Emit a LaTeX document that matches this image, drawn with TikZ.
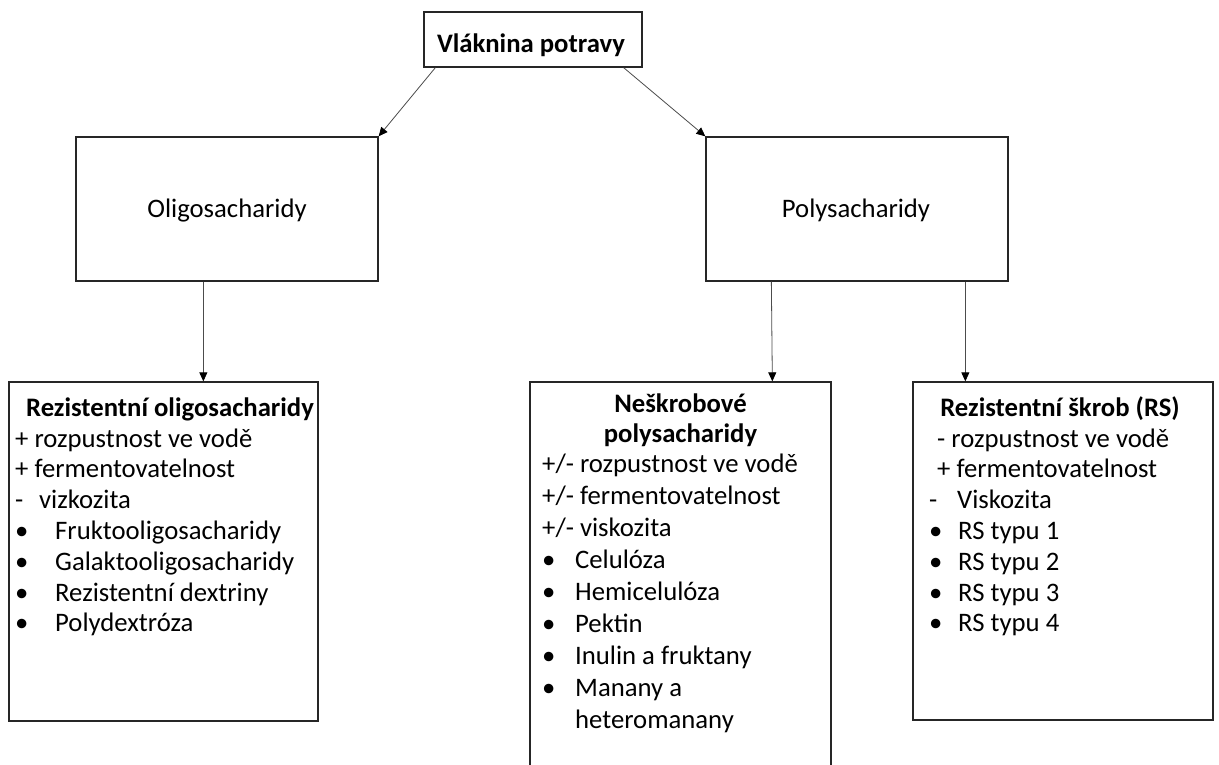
\documentclass[tikz,border=0pt]{standalone}
\usepackage{fontspec}
\setmainfont{Carlito}
\usetikzlibrary{arrows.meta}
\newcommand{\fs}{\fontsize{26.7}{30.8}\selectfont}
\newcommand{\fsb}{\fontsize{26.7}{32}\selectfont}
\begin{document}
\begin{tikzpicture}[x=1pt,y=-1pt,
  box/.style={draw=black!85, line width=1.3pt, rectangle, inner sep=0pt},
  arr/.style={draw=black!70, line width=0.8pt, -{Triangle[length=9pt,width=8pt,color=black]}},
  lbl/.style={inner sep=0pt, anchor=base, font=\fs},
  ttl/.style={inner sep=0pt, anchor=base, font=\fs\bfseries},
  txt/.style={inner sep=0pt, anchor=base west}]
\useasboundingbox (0,0) rectangle (1219,765);
\fill[white] (0,0) rectangle (1219,765);
% boxes
\node[box, minimum width=218pt, minimum height=55pt] (top) at (533,39.5) {};
\node[box, minimum width=302pt, minimum height=144pt] (oligo) at (227,209) {};
\node[box, minimum width=302pt, minimum height=144pt] (poly) at (857,209) {};
\node[box, minimum width=309pt, minimum height=339pt] (ro) at (163.5,551.5) {};
\node[box, minimum width=301pt, minimum height=392pt] (np) at (680.5,578) {};
\node[box, minimum width=300pt, minimum height=338pt] (rs) at (1063,551) {};
% labels
\node[ttl] (toplbl) at (531,53) {Vláknina potravy};
\node[lbl] (oligolbl) at (227,218) {Oligosacharidy};
\node[lbl] (polylbl) at (856,218) {Polysacharidy};
\node[ttl] (rottl) at (170,416) {Rezistentní oligosacharidy};
\node[ttl] (npttl) at (680.5,412) {\fontsize{26.7}{30}\selectfont\begin{tabular}[t]{@{}c@{}}Neškrobové\\polysacharidy\end{tabular}};
\node[ttl] (rsttl) at (1060,416) {Rezistentní škrob (RS)};
% contents
\node[txt, font=\fs] (rotxt) at (15,447) {\begin{tabular}[t]{@{}l@{}}
+ rozpustnost ve vodě\\
+ fermentovatelnost\\
\makebox[24pt][l]{-}vizkozita\\
\makebox[40pt][l]{•}Fruktooligosacharidy\\
\makebox[40pt][l]{•}Galaktooligosacharidy\\
\makebox[40pt][l]{•}Rezistentní dextriny\\
\makebox[40pt][l]{•}Polydextróza
\end{tabular}};
\node[txt, font=\fsb] (nptxt) at (542,472) {\begin{tabular}[t]{@{}l@{}}
+/- rozpustnost ve vodě\\
+/- fermentovatelnost\\
+/- viskozita\\
\makebox[33pt][l]{•}Celulóza\\
\makebox[33pt][l]{•}Hemicelulóza\\
\makebox[33pt][l]{•}Pektin\\
\makebox[33pt][l]{•}Inulin a fruktany\\
\makebox[33pt][l]{•}Manany a\\
\hspace*{33pt}heteromanany
\end{tabular}};
\node[txt, font=\fs] (rstxt) at (929,447) {\begin{tabular}[t]{@{}l@{}}
\hspace*{8pt}- rozpustnost ve vodě\\
\hspace*{8pt}+ fermentovatelnost\\
\makebox[28pt][l]{-}Viskozita\\
\makebox[29pt][l]{•}RS typu 1\\
\makebox[29pt][l]{•}RS typu 2\\
\makebox[29pt][l]{•}RS typu 3\\
\makebox[29pt][l]{•}RS typu 4
\end{tabular}};
% connectors
\draw[arr] ([xshift=12pt]top.south west) -- (oligo.north east);
\draw[arr] ([xshift=-19pt]top.south east) -- (poly.north west);
\draw[arr] ([xshift=128pt]oligo.south west) -- ([xshift=195pt]ro.north west);
\draw[arr] ([xshift=66pt]poly.south west) -- ([xshift=243pt]np.north west);
\draw[arr] ([xshift=260pt]poly.south west) -- ([xshift=53pt]rs.north west);
\end{tikzpicture}
\end{document}
